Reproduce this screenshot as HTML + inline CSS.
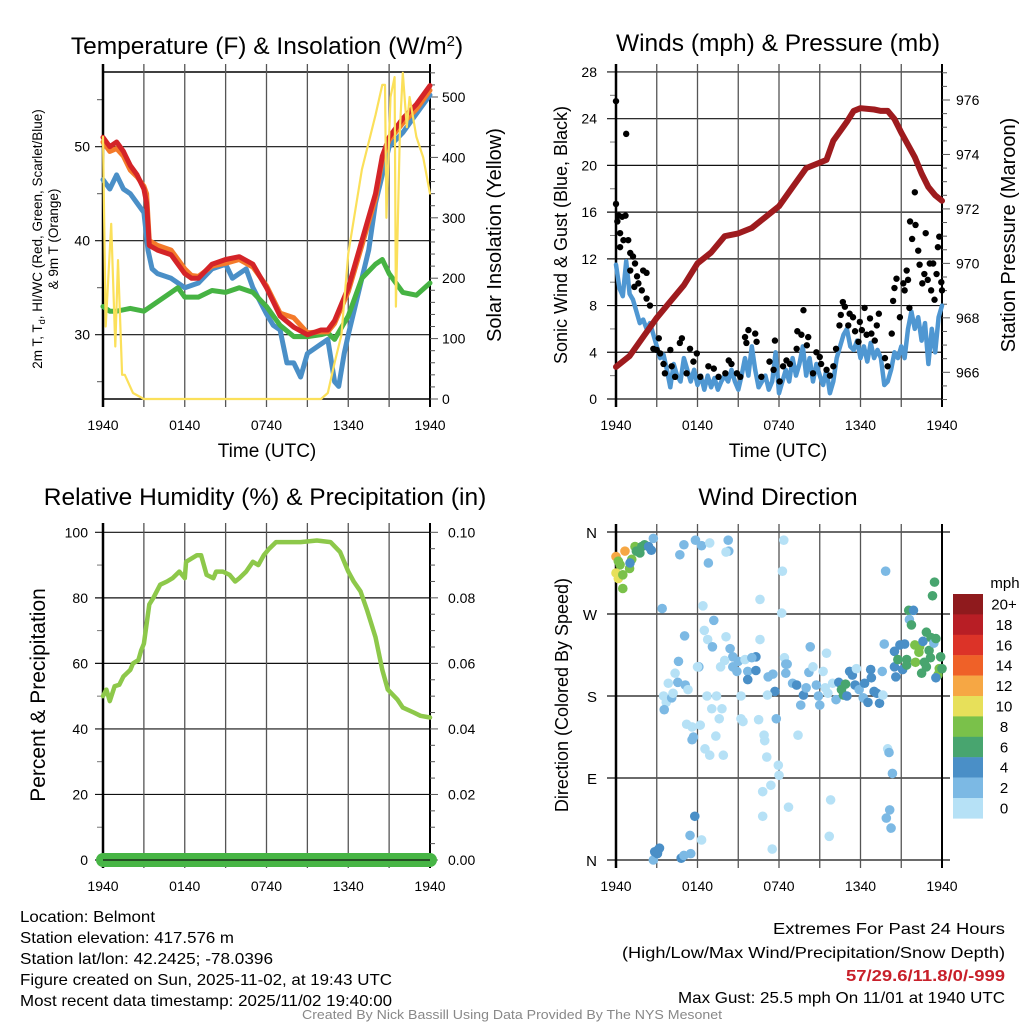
<!DOCTYPE html>
<html><head><meta charset="utf-8"><style>
html,body{margin:0;padding:0;background:#fff;}
svg{display:block;font-family:"Liberation Sans",Arial,sans-serif;}
</style></head><body>
<svg id="fig" width="1024" height="1024" viewBox="0 0 1024 1024" xmlns="http://www.w3.org/2000/svg">
<rect width="1024" height="1024" fill="#fff"/>
<g id="tl"></g>
<g id="tr"></g>
<g id="bl"></g>
<g id="br"></g>
<text x="267" y="54" font-size="24.5" text-anchor="middle">Temperature (F) &amp; Insolation (W/m<tspan baseline-shift="super" font-size="15">2</tspan>)</text>
<text x="778" y="51" font-size="24.5" text-anchor="middle">Winds (mph) &amp; Pressure (mb)</text>
<text x="265" y="505" font-size="24.5" text-anchor="middle">Relative Humidity (%) &amp; Precipitation (in)</text>
<text x="778" y="505" font-size="24.5" text-anchor="middle">Wind Direction</text>
<g font-size="16">
<text x="20" y="922" textLength="135" lengthAdjust="spacingAndGlyphs">Location: Belmont</text>
<text x="20" y="943" textLength="214" lengthAdjust="spacingAndGlyphs">Station elevation: 417.576 m</text>
<text x="20" y="964" textLength="253" lengthAdjust="spacingAndGlyphs">Station lat/lon: 42.2425; -78.0396</text>
<text x="20" y="985" textLength="372" lengthAdjust="spacingAndGlyphs">Figure created on Sun, 2025-11-02, at 19:43 UTC</text>
<text x="20" y="1006" textLength="372" lengthAdjust="spacingAndGlyphs">Most recent data timestamp: 2025/11/02 19:40:00</text>
</g>
<g font-size="16">
<text x="773" y="934" textLength="232" lengthAdjust="spacingAndGlyphs">Extremes For Past 24 Hours</text>
<text x="622" y="958" textLength="383" lengthAdjust="spacingAndGlyphs">(High/Low/Max Wind/Precipitation/Snow Depth)</text>
<text x="846" y="981" textLength="159" lengthAdjust="spacingAndGlyphs" fill="#c8202a" font-weight="bold">57/29.6/11.8/0/-999</text>
<text x="678" y="1003" textLength="327" lengthAdjust="spacingAndGlyphs">Max Gust: 25.5 mph On 11/01 at 1940 UTC</text>
</g>
<text x="302" y="1019" font-size="13" fill="#888" textLength="420" lengthAdjust="spacingAndGlyphs">Created By Nick Bassill Using Data Provided By The NYS Mesonet</text>
</svg>
<script>
// ---------- data ----------
const timeLabels = ["1940","0140","0740","1340","1940"];
// Temperature panel
const redT_h = [0,0.5,1,1.5,2,2.5,3,3.2,3.4,4,5,6,6.5,7,8,9,10,11,12,13,14,15,16,16.5,17,18,19,20,20.5,21,22,23,24];
const redT_v = [51,50,50.5,49.5,48,47,45.5,44,39.5,39,38.5,36.5,36,36,37.5,38,38.3,37.5,35,32,30.8,30,30.5,30.5,31.5,35,40,45,49,51,53,54.5,56.5];
const orgT_v = [50.5,49.5,49.8,49,47.5,46.8,45.8,45,40,39.5,39,37,36.3,36.2,37.3,37.6,38,37.2,35.2,32.3,31.8,30.2,30.3,30.3,31.2,34.6,39.5,44.5,48.7,50.7,52.5,54,56];
const bluT_h = [0,0.5,1,1.5,2,2.5,3,3.3,3.6,4,5,6,7,8,9,9.5,10,10.5,11,12,12.5,13,13.5,14,14.5,15,16,16.5,17,17.3,17.7,18,18.5,19,19.5,20,21,22,23,24];
const bluT_v = [46.5,45.5,47,45.5,45,44,43,39,37,36.5,36,35,35.5,37,37.5,36,36.5,37,35,32.2,31,30.5,27,27,25.5,28,29,29.5,25,24.5,28,30,33,36,39,44,50,51.5,53.5,55.5];
const grnT_h = [0,0.5,1,2,3,4,5,5.5,6,7,8,9,10,11,12,13,14,15,16,16.5,17,18,18.5,19,20,20.5,21,22,23,24];
const grnT_v = [33,32.5,32.5,32.8,32.5,33.5,34.5,35,34,34,34.7,34.5,35,34.5,33,31,29.8,29.8,30,30.2,29.5,32,34,36,37.5,38,36.5,34.5,34.2,35.5];
const solar_h = [0,0.2,0.6,0.9,1.1,1.4,1.6,2.2,3,16,16.5,17,17.5,18,19,20,20.5,20.7,20.8,21.1,21.4,21.5,21.8,22,22.3,22.5,23,23.5,24];
const solar_v = [434,120,290,87,230,40,40,10,0,0,10,60,106,241,380,470,520,520,300,500,533,153,450,540,450,500,434,400,340];
// Winds panel
const windStep = 0.25;
const wind_v = [11.5,9.5,8.8,11.8,9,8.5,7.5,6.5,6.8,6,6.5,5.5,4.5,3.5,3.8,2.5,1,3,2,1.5,3.5,2.5,1.5,2.5,1.2,2,0.8,2,1,1.8,0.8,1.5,2,1.5,2.5,1.5,0.8,2,3.5,2,4.5,2.5,1,1.5,2,0.8,1.5,4,0.5,1.5,2.5,1.5,3.5,2,3,4.5,2,3.5,1.5,3,2,1.2,2.5,0.5,1.5,3.5,4.5,5.5,6,4.5,4.2,5,3.5,4.5,3.2,4.8,3.5,4.2,3.5,1.2,1.5,2.5,4,3.5,4.5,3.5,6,7.5,6,7,5,6.5,3,6,4,7,8];
const gust_h = [0,0,0.1,0.2,0.45,0.7,0.3,0.55,0.75,0.3,0.9,1.05,1.25,1.05,1.4,1.55,1.35,1.65,2,2.25,1.9,2.25,2.5,2.75,3,3.15,3.25,3.5,3.6,4,4.1,4.35,4.7,4.85,5.2,5.45,5.7,5.95,6.2,6.8,7.2,7.55,8.05,8.3,8.5,8.9,9.15,9.5,9.75,9.6,10.25,10.35,10.7,11.3,11.6,11.7,12.05,12.3,12.55,12.8,13.3,13.35,13.65,13.8,14.05,14.15,14.5,14.75,15,15.1,15.5,15.75,16,16.2,16.45,16.55,16.7,16.85,17.1,17.2,17.45,17.6,17.85,17.95,18.1,18.3,18.45,18.7,18.8,19.05,19.2,19.35,19.8,20,20.3,20.4,20.5,20.65,20.9,21.15,21.25,21.4,21.5,21.6,21.65,21.8,22,22.05,22.25,22.35,22.55,22.8,22.7,22.95,23.1,23.2,23.35,23.45,23.6,23.7,23.8,23.95,24];
const gust_v = [25.5,16.7,15.2,15.7,15.6,15.7,14.2,13.6,22.7,13,13.6,12.5,12.2,11,11.6,10.5,9.6,9.9,11,10.8,9.3,8.6,8,4.3,4.2,5.2,3.9,3,2.2,4.2,2.8,1.9,4.8,5.2,2.2,4.3,3.2,3.9,1.9,2.8,2.6,1.9,2.2,3.3,3,2.2,1.9,5.3,5.9,4.8,5.6,4.9,1.9,3.2,2.5,5,1.5,2.8,3.3,3,4.3,5.8,5.5,7.6,4.6,5.3,2.2,4,3.6,3,2.5,2,2.8,4.3,6.3,7.2,8.3,7.9,6.3,7.3,7,5.8,4.9,6.6,5.9,7.8,5.5,6.9,5.6,5,6.3,7.3,3.5,2.8,5.6,8.4,9.5,10.3,7,9.9,9.3,11,10.2,7.8,15.2,13.7,17.7,14.9,12.7,11.5,9.9,14.2,10.7,10.2,11.6,9.3,11.6,8.5,10.7,13,13.9,10,9.3];
const pres_h = [0,1,2,3,4,5,6,7,8,9,10,11,12,13,14,15,15.5,16,17,17.5,18,19,19.5,20,20.5,21,22,22.5,23,23.5,24];
const pres_v = [966.2,966.6,967.3,968,968.6,969.2,970,970.4,971,971.1,971.3,971.7,972.1,972.8,973.5,973.7,973.8,974.5,975.2,975.6,975.7,975.65,975.6,975.6,975.3,974.8,973.9,973.3,972.8,972.5,972.3];
// Humidity panel
const rh_h = [0,0.25,0.5,0.85,1.2,1.5,2,2.2,2.6,2.8,3,3.4,3.7,4.2,4.7,5.1,5.6,6,6.1,6.9,7.2,7.6,8.1,8.3,8.8,9.3,9.7,10,10.5,11,11.4,11.8,12.2,12.7,13.5,14.5,15.7,16.7,17.4,18,18.4,18.9,19.4,20,20.5,20.9,21.6,22,22.8,23.3,24];
const rh_v = [50,52,48.5,53,53.5,56,58,60,61,64,66,78,80,84,85,86,88,86,91,93,93,87,86,88,88,87,85,86,88,91,90,93,95,97,97,97,97.5,97,94,88,85,82,76,68,58,52,49,46.5,45,44,43.5];
const precip_v = [0,0];
// Direction panel: time (h), direction (deg), speed (mph)
const dir_h = [0,0.66,0.17,0.3,0,0.17,0.5,0.5,1,1.16,1.03,1.4,1.5,1.76,1.9,2.1,2.4,2.6,2.75,3.4,4.7,5,5.85,6.3,6.9,6.8,8.26,8.3,8.1,12.35,12.25,10.6,12.2,6.4,7.2,5.05,6.5,6.75,8.1,7.1,4.6,6.1,8.4,8.6,8,9,3.5,3.7,4.1,3.85,4.35,4.55,5.1,5.3,4.2,3.55,6.7,7.4,7.05,7.8,7.6,7.7,8.6,8.9,9.2,9.5,9.7,9.7,10.3,10.3,10,10.6,11.2,11.55,11.7,11.15,12.4,12.5,12.6,12.5,13,13.3,13.6,13.8,14,14.3,14.2,14.5,14.75,15,14.9,15.25,15.5,15.4,15.6,15.95,16.2,16.4,16.6,16.75,16.9,17,17.2,17.4,17.6,17.7,17.9,18.2,18.3,18.55,18.75,18.8,19,19.2,19.4,19.65,19.6,19.75,19.85,20,20.1,20.35,20.15,19.9,20.25,20.5,20.9,21.25,20.5,20.75,20.6,21.1,21.4,21.4,21.55,21.9,21.6,21.75,22,22.35,22.3,22.05,22.5,22.6,22.85,23.05,23.15,22.7,22.85,23.2,23.4,23.3,23.45,23.55,23.9,23.8,23.7,24,23.55,2.75,2.85,3.1,3.2,3.05,4.8,5,5.5,5.45,5.8,6.3,11.5,10.8,10.8,11.4,12,11.95,11.1,10.95,10.9,13.4,12.7,15.8,15.7,9.2,9.35,10.5,11.8,5.2,5.6,6.2,5.7,5.6,6.55,6.9,7.35,7.9,6];
const dir_v = [333,339,328,324,315,309,298,313,320,330,326,344,339,337,344,346,344,340,353,276,335,346,351,345,348,326,351,339,338,351,317,286,271,279,263,246,252,242,245,234,218,212,232,223,219,218,180,173,178,194,205,195,192,187,183,165,180,180,166,166,155,212,212,207,180,220,207,198,223,208,222,242,201,204,185,181,222,205,215,215,194,192,170,181,189,234,206,212,192,170,180,207,227,189,183,194,176,195,187,181,193,180,207,203,192,210,187,178,194,173,209,200,185,183,172,181,207,237,317,122,118,95,55,46,35,229,236,237,212,220,201,209,220,214,274,274,264,258,236,234,228,217,205,240,250,230,222,217,212,244,238,290,305,243,223,210,203,210,200,0,9,11,13,7,2,5,7,27,48,22,12,48,75,82,93,104,113,131,137,137,58,66,26,155,152,154,155,149,146,148,135,132,122,115,136,115,212];
const dir_s = [12,12,9,8,10,10,8,8,8,8,4,8,7,6,6,6,5,4,3,3,3,3,3,3,1,3,3,3,1,1,1,1,1,1,3,3,1,1,1,3,3,3,3,3,1,3,1,1,2,1,1,3,3,1,1,3,1,1,1,1,1,1,3,3,1,1,3,4,4,4,3,1,3,3,4,1,1,3,3,2,2,4,3,4,3,3,3,1,3,3,2,1,1,1,1,1,3,4,6,6,6,4,4,4,4,1,3,3,4,4,4,4,4,4,4,1,2,3,3,1,3,3,3,3,3,4,4,4,4,6,4,4,6,6,6,4,2,6,8,8,8,8,6,4,6,6,6,6,6,6,2,6,6,6,6,8,8,6,4,3,4,4,4,4,4,3,3,3,4,1,1,1,1,1,1,1,1,1,1,1,1,1,1,1,1,1,3,1,1,1,3,3,1,1,1,1,1,3];
const cbarLabels = ["20+","18","16","14","12","10","8","6","4","2","0"];
const cbarColors = ["#8f1a1d","#b81e25","#dc3328","#ef6128","#f6a744","#e7e05a","#7ac14a","#48a56f","#4a8fc7","#7cb9e4","#b6e1f6"];

// ---------- helpers ----------
const NS="http://www.w3.org/2000/svg";
function mk(parent,tag,attrs){const e=document.createElementNS(NS,tag);for(const k in attrs)e.setAttribute(k,attrs[k]);parent.appendChild(e);return e;}
function txt(parent,x,y,s,size,anchor,rot){const e=mk(parent,"text",{x:x,y:y,"font-size":size,"text-anchor":anchor||"middle"});if(rot)e.setAttribute("transform","rotate(-90 "+x+" "+y+")");e.textContent=s;return e;}
function line(parent,x1,y1,x2,y2,c,w){return mk(parent,"line",{x1:x1,y1:y1,x2:x2,y2:y2,stroke:c,"stroke-width":w});}
function poly(parent,hs,vs,X,Y,c,w){let d="";for(let i=0;i<hs.length;i++)d+=(i?"L":"M")+X(hs[i]).toFixed(1)+","+Y(vs[i]).toFixed(1);return mk(parent,"path",{d:d,fill:"none",stroke:c,"stroke-width":w,"stroke-linejoin":"round","stroke-linecap":"round"});}
function timeGrid(g,X,yTop,yBot,yLab){
  for(let k=0;k<=8;k++){const x=X(k*3);const l=line(g,x,yTop,x,yBot,(k==0||k==8)?"#000":"#555",(k==0)?2.5:(k==8?2:1.3));}
  timeLabels.forEach((s,i)=>{const t=txt(g,X(i*6),yLab,s,14);});
}
function colorFor(s){let idx=Math.min(10,Math.floor(s/2));return cbarColors[10-idx];}

// ---------- top-left: temperature ----------
(function(){
  const g=document.getElementById("tl");
  const X=h=>103+h*327/24, TY=v=>146.7+(50-v)*9.4, SY=v=>399-v*0.604;
  [30,40,50].forEach(v=>{line(g,95,TY(v),430,TY(v),"#111",1.2);const t=txt(g,90,TY(v)+5,String(v),14,"end");});
  [25,35,45,55].forEach(v=>line(g,97,TY(v),103,TY(v),"#555",1));
  line(g,103,72,430,72,"#000",1.5);line(g,103,399,430,399,"#000",1.5);
  timeGrid(g,X,64,407,430);
  for(let v=0;v<=540;v+=20){const L=v%100==0?8:5;line(g,430,SY(v),430+L,SY(v),"#555",1);}
  [0,100,200,300,400,500].forEach(v=>{const t=txt(g,442,SY(v)+5,String(v),14,"start");});
  let p;
  p=poly(g,bluT_h,bluT_v,X,TY,"#4a8fc7",5);
  p=poly(g,grnT_h,grnT_v,X,TY,"#46b343",5);
  p=poly(g,redT_h,orgT_v,X,TY,"#f47a2a",5);
  p=poly(g,redT_h,redT_v,X,TY,"#d42428",5);
  p=poly(g,solar_h,solar_v,X,SY,"#fbe05a",2.2);
  let t=txt(g,267,457,"Time (UTC)",19);
  t=txt(g,42,239,"",13.5,"middle",true);
  const a=mk(t,"tspan",{});a.textContent="2m T, T";const b=mk(t,"tspan",{"font-size":9,dy:3});b.textContent="d";const c=mk(t,"tspan",{dy:-3});c.textContent=", HI/WC (Red, Green, Scarlet/Blue)";
  t=txt(g,58,239,"& 9m T (Orange)",13.5,"middle",true);
  t=txt(g,501,235,"Solar Insolation (Yellow)",20,"middle",true);
})();

// ---------- top-right: winds ----------
(function(){
  const g=document.getElementById("tr");
  const X=h=>616+h*326/24, WY=v=>399-v*11.68, PY=v=>100+(976-v)*27.23;
  for(let v=0;v<=28;v+=4){line(g,607,WY(v),942,WY(v),"#111",1.2);const t=txt(g,597,WY(v)+5,String(v),14,"end");}
  for(let v=2;v<28;v+=4)line(g,610,WY(v),616,WY(v),"#777",1);
  timeGrid(g,X,64,407,430);
  for(let v=965;v<=977;v+=0.5){const L=(v%2==0)?8:5;line(g,942,PY(v),942+L,PY(v),"#555",1);}
  [966,968,970,972,974,976].forEach(v=>{const t=txt(g,956,PY(v)+5,String(v),14,"start");});
  const wh=wind_v.map((v,i)=>i*windStep);
  let p=poly(g,wh,wind_v,X,WY,"#4f97d2",4.5);
  p=poly(g,pres_h,pres_v,X,PY,"#9e1b1e",6);
  gust_h.forEach((h,i)=>{const c=mk(g,"circle",{cx:X(h),cy:WY(gust_v[i]),r:3.2,fill:"#000"});});
  let t=txt(g,778,457,"Time (UTC)",19);
  t=txt(g,567,235,"Sonic Wind & Gust (Blue, Black)",18,"middle",true);
  t=txt(g,1015,235,"Station Pressure (Maroon)",20,"middle",true);
})();

// ---------- bottom-left: humidity ----------
(function(){
  const g=document.getElementById("bl");
  const X=h=>103+h*327/24, RY=v=>860-v*3.277;
  for(let v=0;v<=100;v+=20){line(g,95,RY(v),430,RY(v),"#111",1.2);const t=txt(g,88,RY(v)+5,String(v),14,"end");}
  for(let v=10;v<100;v+=20)line(g,97,RY(v),103,RY(v),"#777",1);
  timeGrid(g,X,523,868,891);
  for(let v=0;v<=100;v+=5){const L=v%20==0?8:5;line(g,430,RY(v),430+L,RY(v),"#555",1);}
  ["0.00","0.02","0.04","0.06","0.08","0.10"].forEach((s,i)=>{const t=txt(g,448,RY(i*20)+5,s,14,"start");});
  let p=poly(g,[0,24],precip_v,X,v=>RY(v*1000),"#47b545",14);
  line(g,103,860,430,860,"#111",1.2);
  p=poly(g,rh_h,rh_v,X,RY,"#8dc84a",4.5);
  let t=txt(g,45,695,"Percent & Precipitation",21,"middle",true);
})();

// ---------- bottom-right: wind direction ----------
(function(){
  const g=document.getElementById("br");
  const X=h=>616+h*326/24, DY=v=>860-v*0.9111;
  ["N","E","S","W","N"].forEach((s,i)=>{line(g,607,DY(i*90),950,DY(i*90),"#111",1.2);const t=txt(g,597,DY(i*90)+6,s,15,"end");});
  timeGrid(g,X,524,868,891);
  dir_h.forEach((h,i)=>{const c=mk(g,"circle",{cx:X(h),cy:DY(dir_v[i]),r:4.8,fill:colorFor(dir_s[i])});});
  let t=txt(g,568,695,"Direction (Colored By Speed)",18,"middle",true);
  cbarColors.forEach((c,i)=>{const r=mk(g,"rect",{x:953,y:594+i*20.4,width:30,height:20.6,fill:c});
    const l=txt(g,1004,594+i*20.4+15.5,cbarLabels[i],15);});
  t=txt(g,1005,588,"mph",15);
})();
</script>
</body></html>
